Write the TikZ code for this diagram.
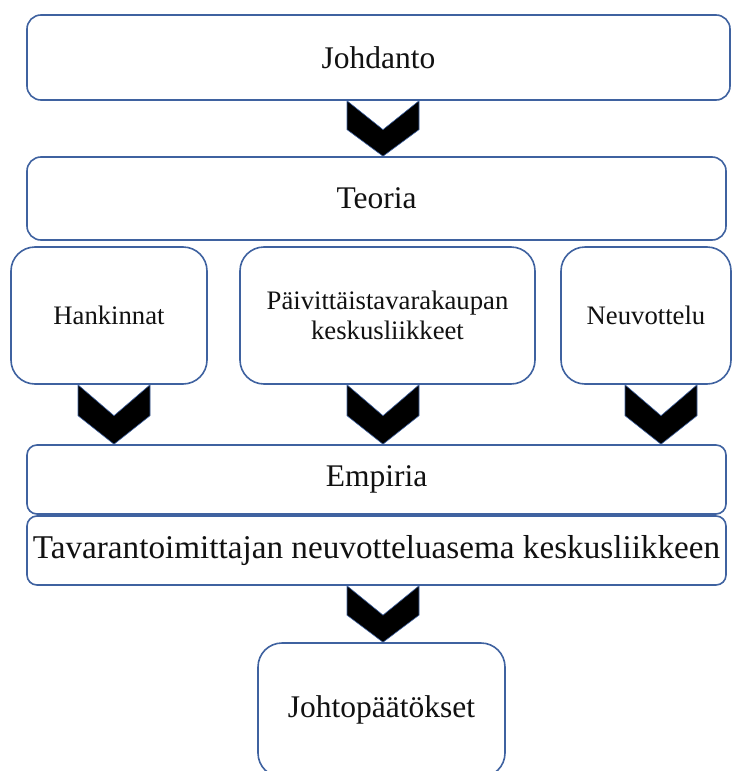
\documentclass[tikz,border=0pt]{standalone}
\usepackage{fontspec}
\setmainfont{Liberation Serif}
\usetikzlibrary{calc}
\definecolor{Frame}{HTML}{3F62A0}
\definecolor{Ink}{HTML}{111111}
\tikzset{mainbox/.style={rectangle,rounded corners=14pt,draw=Frame,line width=1.6pt,fill=white,align=center,text=Ink,font=\fontsize{31.5}{35}\selectfont},topicbox/.style={rectangle,rounded corners=24pt,draw=Frame,line width=1.6pt,fill=white,align=center,text=Ink,font=\fontsize{26.7}{30}\selectfont},chevronfill/.style={fill=black,draw=Frame,line width=0.6pt,line join=miter}}
\newcommand{\chevron}[3]{\filldraw[chevronfill] let \p1=(#2.south), \p2=(#3.north), \n1={0.52*(\y1-\y2)} in (#1pt-36pt,\y1) -- (#1pt,\y1-\n1) -- (#1pt+36pt,\y1) -- (#1pt+36pt,\y1-\n1) -- (#1pt,\y2) -- (#1pt-36pt,\y1-\n1) -- cycle;}

\begin{document}
\begin{tikzpicture}[x=1pt,y=-1pt]
\useasboundingbox (0,0) rectangle (732,771);
\clip (0,0) rectangle (732,771);
\node[mainbox,minimum width=703pt,minimum height=85pt] (johdanto) at (378.5,57.5) {Johdanto};
\node[mainbox,minimum width=699pt,minimum height=83pt] (teoria) at (376.5,198.5) {Teoria};
\node[topicbox,minimum width=196pt,minimum height=137pt] (hankinnat) at (109,315.5) {Hankinnat};
\node[topicbox,minimum width=295pt,minimum height=137pt] (kauppa) at (387.5,315.5) {Päivittäistavarakaupan\\keskusliikkeet};
\node[topicbox,minimum width=170pt,minimum height=137pt] (neuvottelu) at (646,315.5) {Neuvottelu};
\node[mainbox,rounded corners=10pt,minimum width=699pt,minimum height=69pt] (empiria) at (376.5,479.5) {Empiria};
\node[mainbox,rounded corners=10pt,font=\fontsize{33.2}{36}\selectfont,minimum width=699pt,minimum height=69pt] (asema) at (376.5,550.5) {Tavarantoimittajan neuvotteluasema keskusliikkeen};
\node[topicbox,font=\fontsize{31.5}{35}\selectfont,minimum width=247pt,minimum height=134pt] (johtopaatokset) at (381.5,710) {Johtopäätökset};
\chevron{383}{johdanto}{teoria}
\chevron{114}{hankinnat}{empiria}
\chevron{383}{kauppa}{empiria}
\chevron{661}{neuvottelu}{empiria}
\chevron{383}{asema}{johtopaatokset}
\end{tikzpicture}
\end{document}
